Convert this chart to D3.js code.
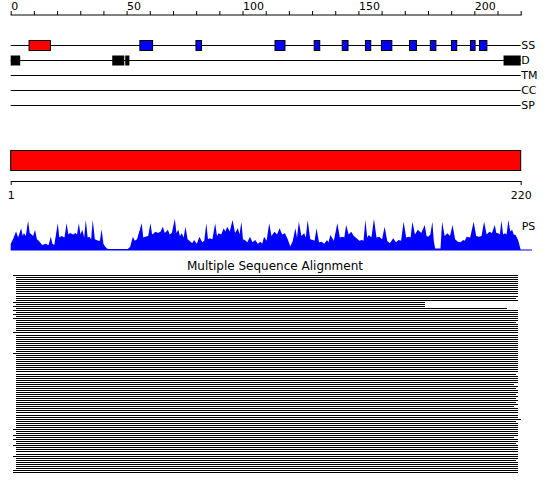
<!DOCTYPE html>
<html>
<head>
<meta charset="utf-8">
<script src="https://cdn.jsdelivr.net/npm/d3@7"></script>
<style>
body { margin: 0; background: white; }
text { font-family: "DejaVu Sans", sans-serif; }
</style>
</head>
<body>
<div id="chart"></div>
<script>
// protein length and tracks
var seqLength = 220
var trackNames = ["SS", "D", "TM", "CC", "SP"]
var topTicks = d3.range(0, 221, 10)
var topLabels = [0, 50, 100, 150, 200]

// secondary structure: helix (red) and strand (blue) segments, in residues
var helixStart = [7.7]
var helixEnd = [16.9]
var strandStart = [55.5, 79.7, 113.8, 130.7, 142.8, 152.8, 159.7, 171.8, 180.8, 189.9, 198.1, 202.0]
var strandEnd = [61.0, 82.1, 118.1, 133.1, 145.3, 155.1, 164.2, 174.8, 183.2, 192.2, 200.1, 205.2]

// disordered regions
var disStart = [0, 43.8, 49.4, 212.6]
var disEnd = [4.1, 49.0, 51.2, 220]

// PS profile: [residue, relative height]
var psPoints = [
    [0, 0.2], [1, 0.35], [2.3, 0.6], [3.2, 0.4], [4.5, 0.7], [5.2, 0.45], [5.7, 0.55], [6.5, 0.45], [7.5, 0.94], [8.2, 0.55],
    [9.0, 0.5], [9.7, 0.45], [10.5, 0.65], [11.3, 0.35], [12.1, 0.3], [13.6, 0.16], [15.1, 0.2], [16.3, 0.15], [17.3, 0.43], [18.0, 0.2],
    [18.8, 0.16], [20.3, 0.86], [21.0, 0.4], [21.9, 0.45], [23.2, 0.4], [24.1, 0.86], [24.9, 0.5], [25.6, 0.55], [27.0, 0.5], [27.9, 0.55],
    [28.6, 0.5], [29.4, 0.86], [30.1, 0.5], [30.9, 0.65], [31.7, 0.4], [32.4, 0.97], [33.2, 0.4], [33.9, 0.43], [34.7, 0.35], [35.4, 0.97],
    [36.3, 0.35], [37.7, 0.3], [38.5, 0.3], [39.2, 0.67], [40.0, 0.2], [40.7, 0.11], [41.5, 0.05], [42.2, 0.03], [50.5, 0.03], [51.5, 0.1],
    [52.7, 0.43], [53.5, 0.3], [54.5, 0.35], [56.5, 0.86], [57.2, 0.4], [58.0, 0.43], [59.3, 0.45], [60.3, 0.86], [61.0, 0.5], [62.5, 0.59],
    [63.5, 0.55], [64.7, 0.6], [65.6, 0.75], [66.5, 0.55], [67.8, 0.65], [68.6, 0.5], [69.5, 0.55], [70.8, 1.0], [71.5, 0.55], [72.3, 0.65],
    [73.0, 0.45], [73.8, 0.54], [74.6, 0.4], [75.4, 0.75], [76.3, 0.35], [77.6, 0.27], [78.3, 0.22], [79.1, 0.32], [80.3, 0.2], [81.4, 0.43],
    [82.6, 0.25], [83.5, 0.3], [84.4, 0.86], [85.1, 0.35], [85.9, 0.38], [87.0, 0.35], [88.2, 0.86], [89.0, 0.45], [89.7, 0.54], [90.8, 0.5],
    [91.9, 0.7], [92.6, 0.6], [93.4, 0.75], [94.5, 0.6], [95.7, 0.97], [96.8, 0.55], [98.0, 0.7], [98.7, 0.5], [99.5, 0.91], [100.2, 0.35],
    [101.0, 0.32], [102.1, 0.25], [103.2, 0.43], [104.3, 0.25], [105.5, 0.32], [106.6, 0.2], [107.7, 0.27], [108.5, 0.2], [109.3, 0.43], [110.4, 0.3],
    [111.5, 0.86], [112.5, 0.45], [113.8, 0.59], [114.9, 0.5], [116.0, 0.7], [117.1, 0.5], [118.3, 0.54], [119.5, 0.35], [120.6, 0.11], [121.7, 0.3],
    [122.8, 0.7], [123.5, 0.4], [124.3, 0.91], [125.4, 0.45], [126.6, 0.54], [127.3, 0.4], [128.1, 0.97], [129.2, 0.35], [130.4, 0.32], [131.1, 0.3],
    [131.9, 0.7], [133.0, 0.25], [134.1, 0.27], [135.3, 0.2], [136.4, 0.32], [137.1, 0.25], [137.9, 0.48], [139.4, 0.3], [140.9, 0.86], [142.0, 0.4],
    [143.2, 0.43], [143.9, 0.4], [144.7, 0.81], [145.8, 0.5], [146.9, 0.59], [148.0, 0.45], [149.2, 0.38], [150.4, 0.3], [151.5, 0.32], [152.2, 0.3],
    [153.0, 0.97], [153.8, 0.4], [154.5, 0.48], [155.6, 0.4], [156.7, 1.0], [157.8, 0.4], [159.0, 0.43], [160.2, 0.35], [161.3, 0.75], [162.4, 0.3],
    [163.5, 0.22], [164.3, 0.3], [165.0, 0.38], [166.2, 0.25], [167.3, 0.32], [168.4, 0.3], [169.5, 0.91], [170.6, 0.4], [171.8, 0.43], [172.5, 0.4],
    [173.3, 0.91], [174.4, 0.5], [175.6, 0.65], [177.1, 0.55], [178.6, 0.81], [179.4, 0.45], [180.1, 0.43], [181.0, 0.5], [181.9, 0.91], [182.5, 0.3],
    [183.1, 0.05], [185.4, 0.05], [186.1, 0.91], [187.2, 0.45], [188.4, 0.54], [189.5, 0.45], [190.6, 0.81], [191.7, 0.35], [192.9, 0.27], [194.0, 0.25],
    [195.2, 0.32], [195.9, 0.3], [196.7, 0.43], [198.2, 0.4], [199.7, 0.91], [200.8, 0.45], [202.0, 0.43], [203.1, 0.45], [204.2, 0.91], [205.3, 0.5],
    [206.5, 0.59], [207.6, 0.55], [208.8, 0.81], [209.5, 0.55], [210.3, 0.54], [211.0, 0.5], [211.7, 0.95], [212.4, 0.5], [213.2, 0.54], [213.9, 0.5],
    [214.7, 0.97], [215.5, 0.6], [216.3, 0.65], [217.0, 0.5], [217.8, 0.48], [219.0, 0.3], [220, 0]
]

// multiple sequence alignment: aligned span of each sequence
var msaStart = [1.1, 2.1, 2.1, 2.1, 2.1, 2.1, 2.1, 2.1, 2.1, 2.1,
    2.1, 2.1, 2.1, 1.1, 2.1, 1.1, 2.1, 1.1, 2.1, 1.1,
    2.1, 1.1, 2.1, 2.1, 2.1, 2.1, 2.1, 2.1, 1.1, 2.1,
    2.1, 2.1, 2.1, 2.1, 2.1, 2.1, 2.1, 2.1, 1.1, 2.1,
    2.1, 2.1, 2.1, 2.1, 2.1, 2.1, 2.1, 2.1, 2.1, 2.1,
    2.1, 2.1, 2.1, 2.1, 2.1, 2.1, 2.1, 2.1, 2.1, 2.1,
    2.1, 2.1, 2.1, 2.1, 2.1, 2.1, 2.1, 2.1, 2.1, 2.1,
    2.1, 2.1, 2.1, 2.1, 2.1, 1.1, 2.1, 2.1, 1.1, 2.1,
    1.1, 2.1, 2.1, 1.1, 2.1, 2.1, 2.1, 2.1, 1.1, 2.1,
    2.1, 2.1, 2.1, 2.1, 2.1, 1.1, 1.1]
var msaEnd = [218.7, 218.7, 218.7, 218.7, 218.7, 218.7, 218.7, 218.7, 218.7, 218.7,
    218.7, 217.8, 218.7, 178.9, 178.9, 178.9, 214.3, 218.7, 218.7, 218.7,
    218.7, 218.7, 218.7, 217.8, 218.7, 218.7, 218.7, 218.7, 218.7, 218.7,
    218.7, 218.7, 218.7, 218.7, 218.7, 218.7, 218.7, 218.7, 218.7, 218.7,
    218.7, 218.7, 218.7, 218.7, 218.7, 218.7, 218.7, 218.7, 217.8, 218.7,
    218.7, 218.7, 218.7, 217.0, 218.7, 217.8, 218.7, 218.7, 217.8, 218.7,
    217.8, 218.7, 217.8, 218.7, 217.0, 218.7, 218.7, 218.7, 218.7, 218.7,
    220.2, 217.8, 218.7, 218.7, 218.7, 218.7, 218.7, 218.7, 218.7, 217.0,
    218.7, 218.7, 217.8, 218.7, 218.7, 218.7, 218.7, 218.7, 218.7, 218.7,
    217.8, 218.7, 218.7, 218.7, 218.7, 218.7, 218.7]

var width = 550
var height = 495
var svg = d3.select("#chart").append("svg").attr("width", width).attr("height", height)

var x = d3.scaleLinear().domain([0, seqLength]).range([10.7, 520.7])

// top ruler
var topAxis = d3.axisTop(x).tickValues(topTicks).tickSize(4).tickSizeOuter(0).tickPadding(1)
    .tickFormat(function(d) { return topLabels.indexOf(d) >= 0 ? d : "" })
var gTop = svg.append("g").attr("transform", "translate(0,15)").call(topAxis)
gTop.select(".domain").attr("stroke", "black").attr("d", "M" + x(0) + ",0H" + (x(seqLength) + 1))
gTop.selectAll("text").attr("text-anchor", "start").attr("dx", "0").style("font-size", "11px").attr("fill", "black")

// feature tracks
var trackY = d3.scalePoint().domain(trackNames).range([45, 105])
svg.selectAll(".track").data(trackNames).enter().append("line").attr("class", "track")
    .attr("x1", x(0)).attr("x2", x(seqLength))
    .attr("y1", function(d) { return trackY(d) + 0.5 })
    .attr("y2", function(d) { return trackY(d) + 0.5 })
    .attr("stroke", "black").attr("stroke-width", 1)
svg.selectAll(".trackLabel").data(trackNames).enter().append("text").attr("class", "trackLabel")
    .attr("x", x(seqLength) + 0.5).attr("y", function(d) { return trackY(d) + 0.5 })
    .attr("dy", "0.35em").style("font-size", "11px").text(function(d) { return d })

var helices = helixStart.map(function(s, i) { return {start: s, end: helixEnd[i], color: "#ff0000"} })
var strands = strandStart.map(function(s, i) { return {start: s, end: strandEnd[i], color: "#0000ff"} })
svg.selectAll(".ss").data(helices.concat(strands)).enter().append("rect").attr("class", "ss")
    .attr("x", function(d) { return x(d.start) + 0.5 })
    .attr("width", function(d) { return x(d.end) - x(d.start) })
    .attr("y", trackY("SS") - 4.5).attr("height", 10)
    .attr("fill", function(d) { return d.color }).attr("stroke", "black").attr("stroke-width", 1)

var disorder = disStart.map(function(s, i) { return {start: s, end: disEnd[i]} })
svg.selectAll(".dis").data(disorder).enter().append("rect").attr("class", "dis")
    .attr("x", function(d) { return x(d.start) })
    .attr("width", function(d) { return x(d.end) - x(d.start) })
    .attr("y", trackY("D") - 4.5).attr("height", 10).attr("fill", "black")

// full length domain bar
svg.append("rect").attr("x", x(0)).attr("y", 150.5).attr("width", x(seqLength) - x(0)).attr("height", 20)
    .attr("fill", "#ff0000").attr("stroke", "black").attr("stroke-width", 1)

var xb = d3.scaleLinear().domain([1, seqLength]).range([10.7, 520.7])
var gBottom = svg.append("g").attr("transform", "translate(0,181)")
    .call(d3.axisBottom(xb).tickValues([1, seqLength]).tickSize(4).tickSizeOuter(0).tickPadding(6))
gBottom.select(".domain").attr("stroke", "black")
gBottom.selectAll("text").style("font-size", "11px").attr("fill", "black")

// PS profile
var yPs = d3.scaleLinear().domain([0, 1]).range([250, 219])
var area = d3.area().x(function(d) { return x(d[0]) }).y0(250).y1(function(d) { return yPs(d[1]) })
svg.append("path").datum(psPoints).attr("d", area).attr("fill", "#0000ff")
svg.append("line").attr("x1", x(0)).attr("x2", 532).attr("y1", 250).attr("y2", 250)
    .attr("stroke", "#0000ff").attr("stroke-width", 1)
svg.append("text").attr("x", x(seqLength) + 1).attr("y", 230).style("font-size", "11px").text("PS")

// alignment
svg.append("text").attr("x", 275).attr("y", 270).attr("text-anchor", "middle")
    .style("font-size", "12px").text("Multiple Sequence Alignment")
var msa = msaStart.map(function(s, i) { return {start: s, end: msaEnd[i], row: i} })
var yMsa = d3.scaleLinear().domain([0, msa.length - 1]).range([275, 472])
svg.selectAll(".seq").data(msa).enter().append("line").attr("class", "seq")
    .attr("x1", function(d) { return x(d.start) }).attr("x2", function(d) { return x(d.end) })
    .attr("y1", function(d) { return Math.round(yMsa(d.row)) + 0.5 })
    .attr("y2", function(d) { return Math.round(yMsa(d.row)) + 0.5 })
    .attr("stroke", "black").attr("stroke-width", 1).attr("shape-rendering", "crispEdges")
</script>
</body>
</html>
